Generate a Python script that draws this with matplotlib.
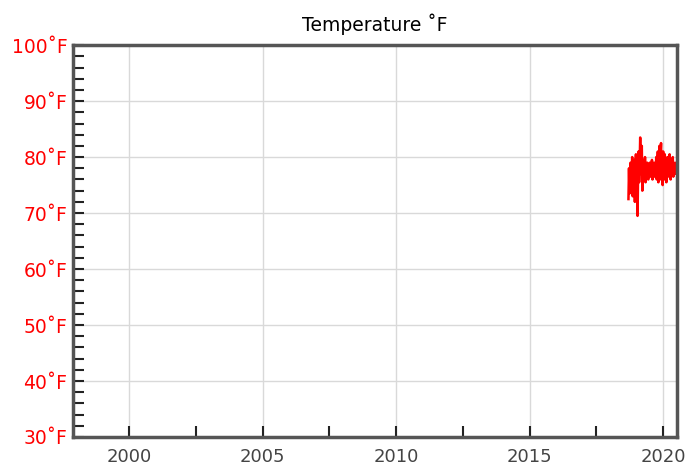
import numpy as np
import matplotlib.pyplot as plt
from matplotlib.ticker import MultipleLocator

# temperature readings (decimal year, deg F)
years = [2018.70, 2018.72, 2018.74, 2018.76, 2018.78, 2018.80, 2018.82, 2018.84,
         2018.86, 2018.88, 2018.90, 2018.92, 2018.94, 2018.96, 2018.98, 2019.00,
         2019.02, 2019.04, 2019.06, 2019.08, 2019.10, 2019.12, 2019.14, 2019.16,
         2019.18, 2019.20, 2019.22, 2019.24, 2019.26, 2019.28, 2019.30, 2019.32,
         2019.34, 2019.36, 2019.38, 2019.40, 2019.42, 2019.44, 2019.46, 2019.48,
         2019.50, 2019.52, 2019.54, 2019.56, 2019.58, 2019.60, 2019.62, 2019.64,
         2019.66, 2019.68, 2019.70, 2019.72, 2019.74, 2019.76, 2019.78, 2019.80,
         2019.82, 2019.84, 2019.86, 2019.88, 2019.90, 2019.92, 2019.94, 2019.96,
         2019.98, 2020.00, 2020.02, 2020.04, 2020.06, 2020.08, 2020.10, 2020.12,
         2020.14, 2020.16, 2020.18, 2020.20, 2020.22, 2020.24, 2020.26, 2020.28,
         2020.30, 2020.32, 2020.34, 2020.36, 2020.38, 2020.40, 2020.42, 2020.44,
         2020.46, 2020.48, 2020.50]
temps = [72.5, 78.0, 73.5, 76.0, 79.0, 74.0, 77.5, 80.0, 73.0, 78.5,
         75.0, 79.5, 72.0, 77.0, 80.5, 74.5, 78.0, 69.5, 76.5, 81.0,
         75.5, 79.0, 83.5, 77.0, 80.0, 82.0, 74.0, 78.5, 76.0, 79.5,
         77.0, 80.0, 75.5, 78.0, 76.5, 79.0, 77.5, 76.0, 78.5, 77.0,
         79.0, 76.5, 78.0, 77.5, 79.5, 76.0, 78.0, 77.0, 79.0, 76.5,
         78.5, 77.0, 80.0, 76.0, 78.5, 81.0, 75.5, 79.0, 82.0, 76.0,
         80.5, 82.5, 77.0, 79.5, 75.0, 81.0, 78.0, 76.0, 80.5, 77.5,
         79.0, 75.5, 78.5, 80.0, 76.5, 79.0, 77.0, 80.5, 78.0, 76.0,
         79.5, 77.0, 78.5, 80.0, 76.5, 79.0, 77.5, 78.5, 77.0, 79.0, 78.0]

x_ticks = [2000, 2005, 2010, 2015, 2020]
y_ticks = [30, 40, 50, 60, 70, 80, 90, 100]

plt.rcParams['font.family'] = ['DejaVu Sans']

fig = plt.figure(figsize=(6.85, 4.75), dpi=100)
ax = fig.add_axes([0.1066, 0.08, 0.8818, 0.825])

ax.plot(years, temps, color='red', linewidth=1.8)

ax.set_xlim(1997.9, 2020.52)
ax.set_ylim(30, 100)
ax.set_xticks(x_ticks)
ax.set_xticklabels([str(y) for y in x_ticks])
ax.xaxis.set_minor_locator(MultipleLocator(2.5))
ax.set_yticks(y_ticks)
ax.set_yticklabels([f'{v}\u02daF' for v in y_ticks])
ax.yaxis.set_minor_locator(MultipleLocator(2))

ax.grid(True, which='major', color='#d9d9d9', linewidth=1)
ax.set_axisbelow(True)

for s in ax.spines.values():
    s.set_color('#555555')
    s.set_linewidth(2.5)

ax.tick_params(axis='both', which='both', direction='in', color='#222222',
               width=1.5, length=8)
ax.tick_params(axis='x', labelcolor='#444444', labelsize=13, pad=8)
ax.tick_params(axis='y', labelcolor='red', labelsize=13.5, pad=4)

ax.set_title('Temperature \u02daF', fontsize=13.5, pad=10)

fig.savefig('out.png', dpi=100)
